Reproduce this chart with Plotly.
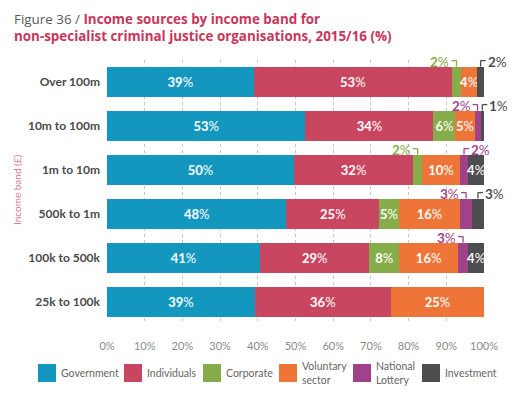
import plotly.graph_objects as go

# ---------------- data ----------------
categories = ["Over 100m", "10m to 100m", "1m to 10m", "500k to 1m", "100k to 500k", "25k to 100k"]
series_names = ["Government", "Individuals", "Corporate", "Voluntary sector", "National Lottery", "Investment"]
legend_labels = ["Government", "Individuals", "Corporate", "Voluntary<br>sector", "National<br>Lottery", "Investment"]
government = [38.9, 52.6, 49.6, 47.6, 40.6, 39.2]
individuals = [52.6, 34.0, 31.6, 24.6, 29.0, 36.1]
corporate = [2.4, 5.8, 2.4, 5.2, 7.9, 0.0]
voluntary = [4.3, 5.1, 10.0, 16.3, 15.6, 24.7]
lottery = [0.0, 1.6, 2.2, 3.1, 2.7, 0.0]
investment = [1.8, 0.9, 4.2, 3.2, 4.2, 0.0]
x_tick_values = [0, 10, 20, 30, 40, 50, 60, 70, 80, 90, 100]
x_tick_labels = [f"{v}%" for v in x_tick_values]

# ---------------- style ----------------
colors = ["#1497BF", "#C8465F", "#86AD49", "#EE7537", "#A0428A", "#4D4D4F"]
FONT = "Lato"
OFF = 8  # page body margin
W, H = 529 - OFF, 400 - OFF
ML, MR, MT, MB = 107 - OFF, 45, 60 - OFF, 76
PW, PH = W - ML - MR, H - MT - MB
BAR_W = 0.70
NCAT = len(categories)
SMALL = 3.5

series = [government, individuals, corporate, voluntary, lottery, investment]
ypos = list(range(NCAT))

fig = go.Figure()
for name, vals, col in zip(series_names, series, colors):
    txt = [f"<b>{v:.0f}</b>%" if v >= SMALL else "" for v in vals]
    fig.add_trace(go.Bar(
        x=vals, y=ypos, orientation="h", name=name, width=BAR_W,
        marker=dict(color=col, line=dict(width=0)),
        text=txt, textposition="inside", insidetextanchor="middle", textangle=0,
        textfont=dict(color="white", size=13, family=FONT),
        hoverinfo="skip", showlegend=False,
    ))

shapes = []
annotations = []

def yd2paper(y):
    # y axis range is [NCAT-0.5, -0.5] (reversed)
    return (NCAT - 0.5 - y) / NCAT

# callouts for small segments
dyp = 6.0 / PH
dxp = 5.0 / PW
for i in ypos:
    vals_row = [s[i] for s in series]
    nz = [k for k, v in enumerate(vals_row) if v > 0]
    last_k = nz[-1]
    cum = 0.0
    left_used = False
    for k, v in enumerate(vals_row):
        if v <= 0:
            continue
        c = cum + v / 2.0
        cum += v
        if v >= SMALL:
            continue
        side = "right" if (k == last_k or left_used) else "left"
        if side == "left":
            left_used = True
        sgn = -1 if side == "left" else 1
        cp = c / 100.0
        ytp = yd2paper(i - BAR_W / 2.0)
        ylp = ytp + dyp
        col = colors[k]
        shapes.append(dict(type="line", xref="paper", yref="paper", x0=cp, x1=cp, y0=ytp, y1=ylp,
                           line=dict(color=col, width=1.3)))
        shapes.append(dict(type="line", xref="paper", yref="paper", x0=cp, x1=cp + sgn * dxp,
                           y0=ylp, y1=ylp, line=dict(color=col, width=1.3)))
        annotations.append(dict(
            x=cp + sgn * dxp, y=ylp, xref="paper", yref="paper",
            xanchor="right" if side == "left" else "left", yanchor="middle",
            yshift=-1, xshift=sgn * 1,
            text=f"<b>{v:.0f}</b>%", showarrow=False, borderpad=0,
            font=dict(color=col, size=13.5, family=FONT),
        ))

def px2paper_x(px):
    return (px - OFF - ML) / PW

def px2paper_y(py):
    return (H - MB - (py - OFF)) / PH

# title
TFONT = "Open Sans"
annotations.append(dict(
    x=px2paper_x(12), y=px2paper_y(27.5), xref="paper", yref="paper",
    xanchor="left", yanchor="middle", align="left", showarrow=False,
    text=("<span style='color:#5a5a5a;font-weight:normal'>Figure 36 / </span>"
          "<b>Income sources by income band for</b><br>"
          "<b>non-specialist criminal justice organisations, 2015/16 (%)</b>"),
    font=dict(color="#C8365C", size=13.4, family=TFONT),
))

# y-axis title
annotations.append(dict(
    x=px2paper_x(17), y=px2paper_y(190), xref="paper", yref="paper",
    xanchor="center", yanchor="middle", textangle=-90, showarrow=False,
    text="Income band (£)", font=dict(color="#D47A98", size=10, family=FONT),
))

# legend (manual)
legend_swatch_x = [38, 124, 203, 279, 353, 422]
legend_cy = 373
SW = 18
for lx, lab, col in zip(legend_swatch_x, legend_labels, colors):
    shapes.append(dict(type="rect", xref="paper", yref="paper",
                       x0=px2paper_x(lx), x1=px2paper_x(lx + SW),
                       y0=px2paper_y(legend_cy + SW / 2), y1=px2paper_y(legend_cy - SW / 2),
                       fillcolor=col, line=dict(width=0)))
    annotations.append(dict(
        x=px2paper_x(lx + SW + 3), y=px2paper_y(legend_cy), xref="paper", yref="paper",
        xanchor="left", yanchor="middle", align="left", showarrow=False,
        text=lab, font=dict(color="#666666", size=10.5, family=FONT),
    ))

fig.update_layout(
    barmode="stack",
    width=W, height=H,
    margin=dict(l=ML, r=MR, t=MT, b=MB, pad=0),
    paper_bgcolor="white", plot_bgcolor="white",
    font=dict(family=FONT),
    shapes=shapes, annotations=annotations,
    uniformtext=dict(minsize=13, mode="show"),
    showlegend=False,
)
fig.update_xaxes(
    range=[0, 100], tickvals=x_tick_values, ticktext=x_tick_labels,
    showgrid=True, gridcolor="#c4c4c4", griddash="dot", gridwidth=1,
    zeroline=False, showline=False,
    tickfont=dict(color="#8a8a8a", size=11, family=FONT),
    ticklabelstandoff=14, fixedrange=True,
)
fig.update_yaxes(
    range=[NCAT - 0.5, -0.5], tickvals=ypos, ticktext=categories,
    showgrid=False, zeroline=False, showline=False,
    tickfont=dict(color="#4a4a4a", size=12, family=FONT, weight="bold"),
    ticklabelstandoff=6, fixedrange=True,
)

fig.write_html("out.html")
